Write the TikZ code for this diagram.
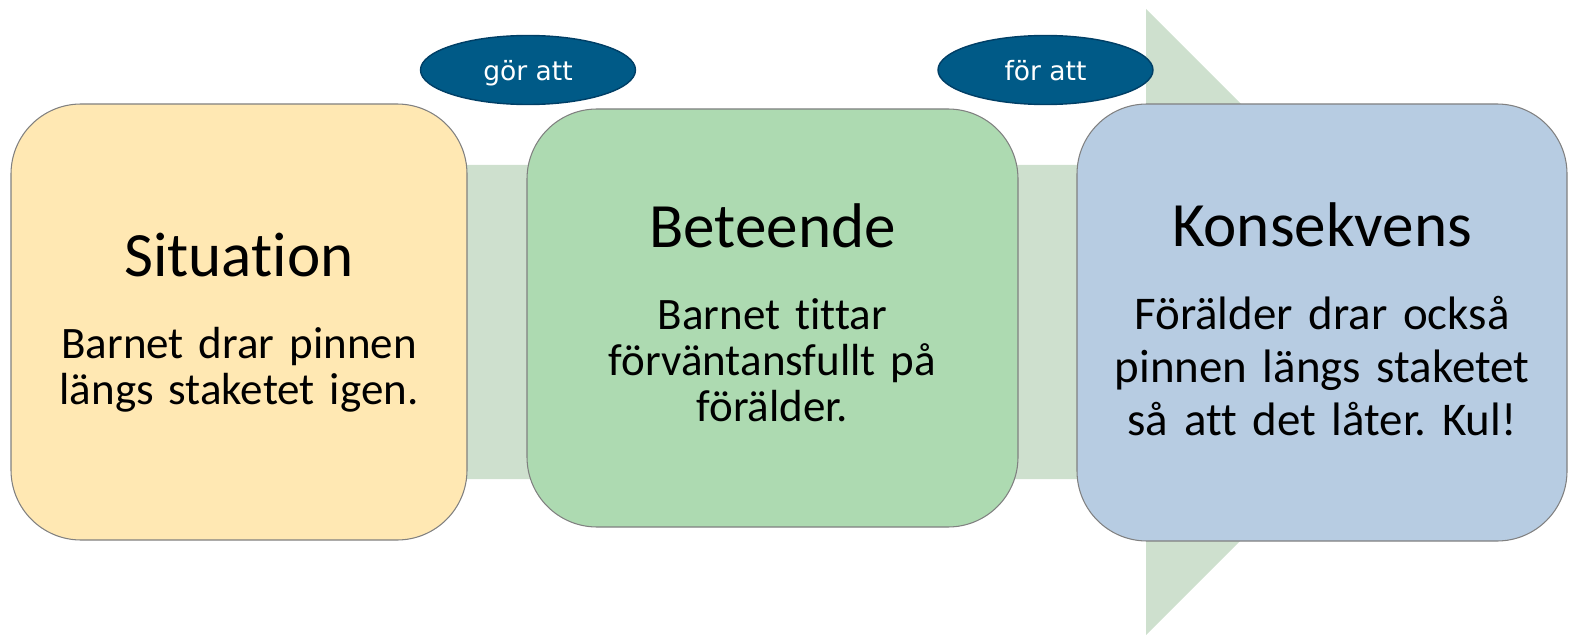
\documentclass[tikz,border=0pt]{standalone}
\usepackage{fontspec}
\setmainfont{Carlito}[Ligatures=NoCommon]
\newfontfamily\linkfont{DejaVu Sans}
\usetikzlibrary{shapes.geometric,positioning}
\definecolor{sitfill}{HTML}{FFE8B3}
\definecolor{betfill}{HTML}{ADDAB1}
\definecolor{konfill}{HTML}{B7CCE2}
\definecolor{bandfill}{HTML}{CEE0CE}
\definecolor{linkfill}{HTML}{005A87}
\definecolor{linkdraw}{HTML}{003F66}
\frenchspacing

\begin{document}
\begin{tikzpicture}[
		box/.style={draw=black!50,line width=0.6pt,rounded corners=1.4cm,inner sep=0pt},
		title/.style={font=\fontsize{35.9}{40}\selectfont,anchor=base,inner sep=0pt},
		body/.style={font=\fontsize{25.6}{26.2}\selectfont,anchor=base,inner sep=0pt,text width=9cm,align=center},
		link/.style={ellipse,fill=linkfill,draw=linkdraw,line width=0.8pt,minimum width=4.3cm,minimum height=1.38cm,inner sep=0pt,text depth=0pt,text=white,font=\linkfont\fontsize{15.1}{18}\selectfont}
	]
	\useasboundingbox (0,0) rectangle (31.46,12.72);
	% the big arrow behind the boxes
	\fill[bandfill] (4,3.14) -- (22.92,3.14) -- (22.92,0.02) -- (29.18,6.28)
		-- (22.92,12.54) -- (22.92,9.42) -- (4,9.42) -- cycle;
	% boxes
	\node[box,fill=sitfill,minimum width=9.12cm,minimum height=8.72cm] (sit) at (4.78,6.28) {};
	\node[box,fill=betfill,minimum width=9.82cm,minimum height=8.36cm] (bet) at (15.45,6.36) {};
	\node[box,fill=konfill,minimum width=9.80cm,minimum height=8.74cm] (kon) at (26.44,6.27) {};
	% texts
	\node[title] (sittitle) at ([yshift=-3.46cm]sit.north) {Situation};
	\node[body] (sitbody) at ([yshift=-5.10cm]sit.north) {Barnet drar pinnen\\längs staketet igen.};
	\node[title] (bettitle) at ([yshift=-2.78cm]bet.north) {Beteende};
	\node[body] (betbody) at ([yshift=-4.42cm]bet.north) {Barnet tittar\\förväntansfullt på\\förälder.};
	\node[title] (kontitle) at ([yshift=-2.86cm]kon.north) {Konsekvens};
	\node[body,font=\fontsize{26.7}{30.2}\selectfont] (konbody) at ([yshift=-4.52cm]kon.north) {Förälder drar också\\pinnen längs staketet\\så att det låter. Kul!};
	% links
	\node[link] (gor) at (10.56,11.32) {gör att};
	\node[link] (for) at (20.91,11.32) {för att};
\end{tikzpicture}
\end{document}
